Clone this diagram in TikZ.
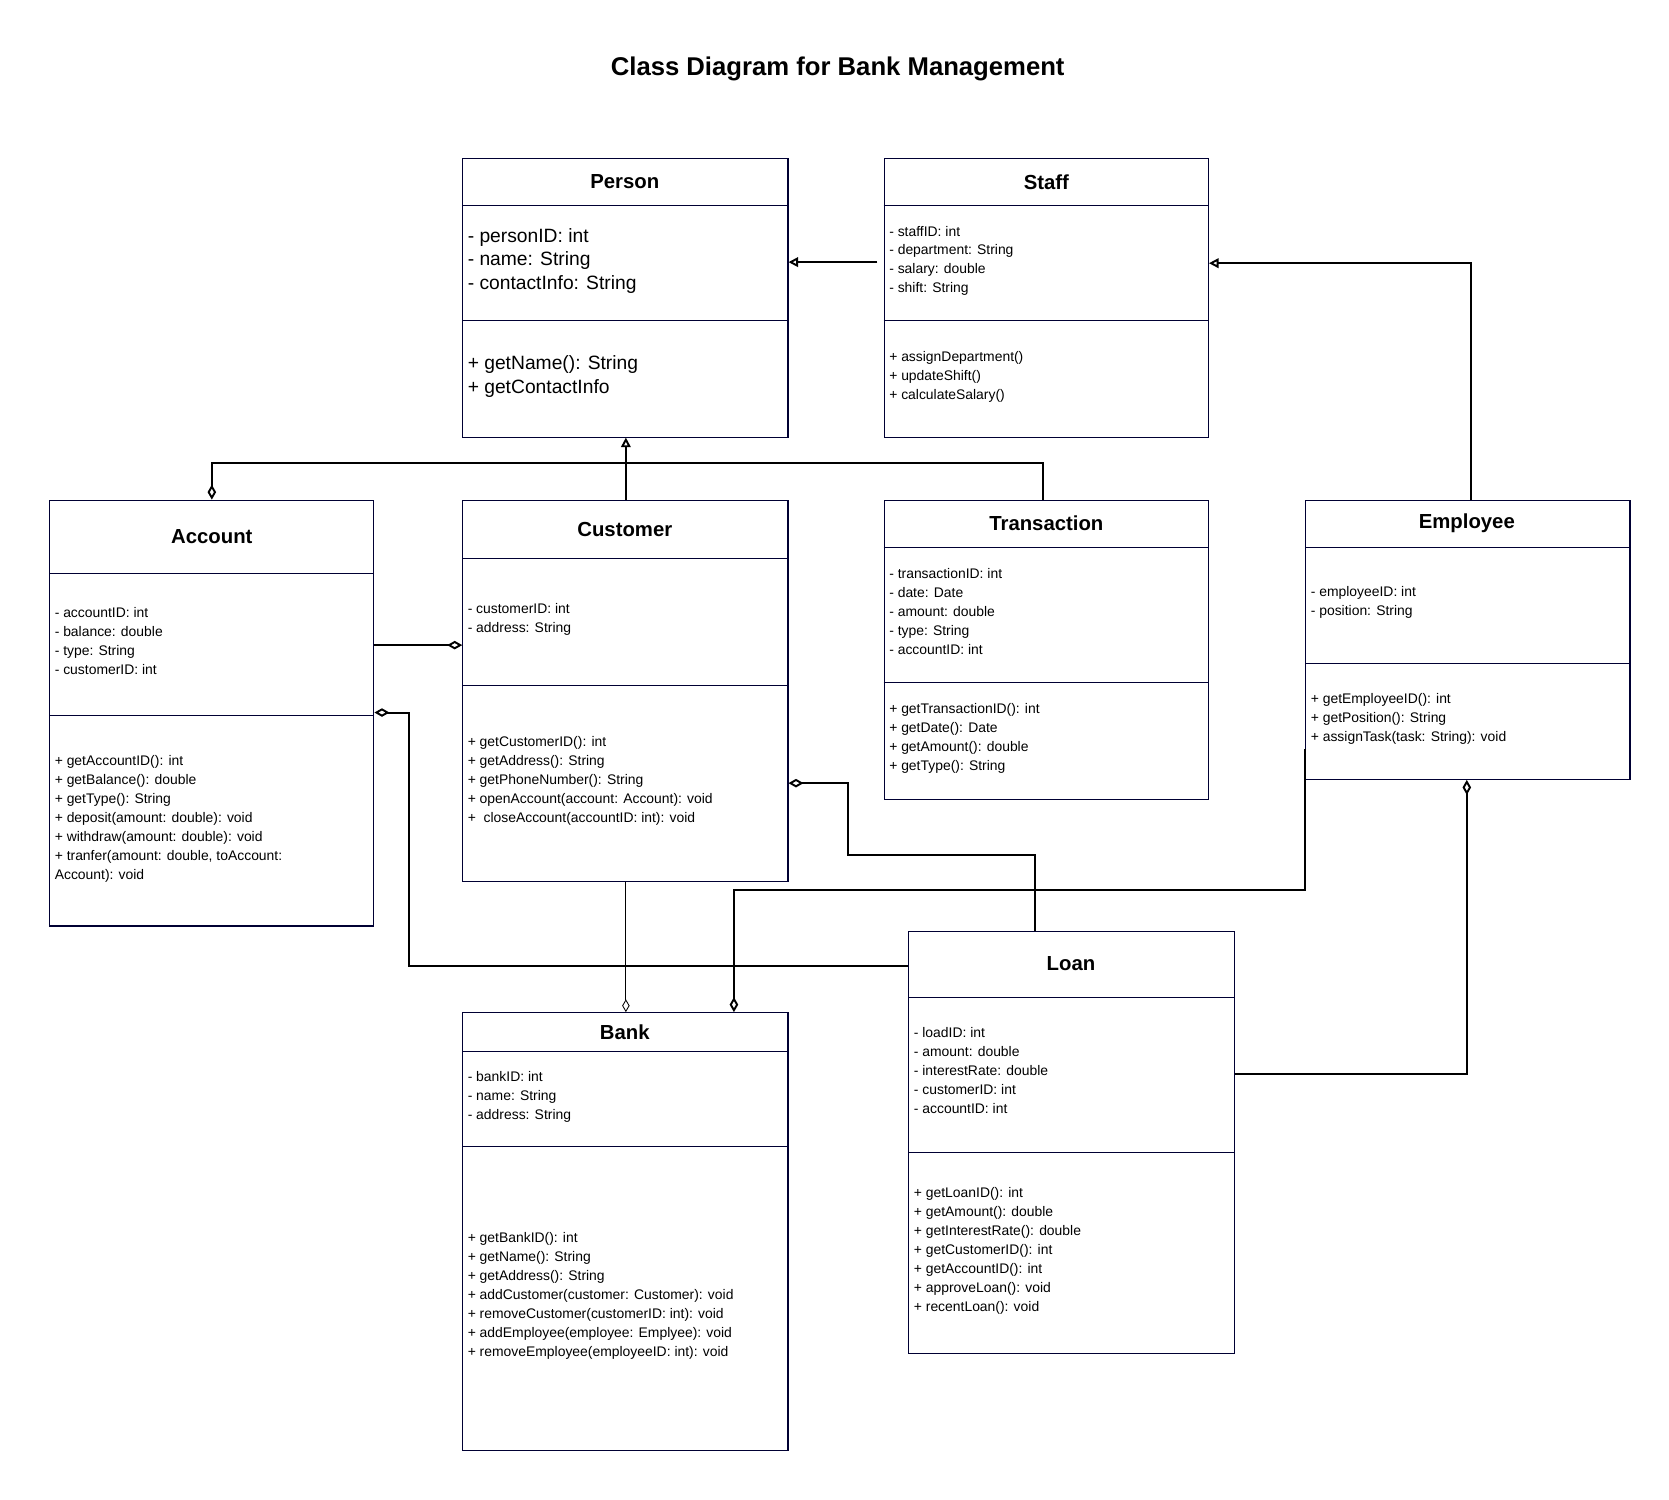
\documentclass[tikz,border=0pt]{standalone}
\usepackage{fontspec}
\setmainfont{Liberation Sans}
\usetikzlibrary{arrows.meta}
\tikzset{
    box/.style={draw=black!80!blue, line width=1pt, inner sep=0pt, anchor=north west}, % class frame
    title/.style={font=\fontsize{19}{22}\selectfont\bfseries},
    small/.style={anchor=north west, align=left, inner sep=0pt, font=\fontsize{13}{17.7}\selectfont},
    big/.style={anchor=north west, align=left, inner sep=0pt, font=\fontsize{18}{22.3}\selectfont},
    link/.style={line width=1.8pt},
    inh/.style={link, -{Triangle[open, length=9pt, width=9pt]}},
    agg/.style={link, -{Diamond[open, length=14pt, width=8pt]}}
}
\begin{document}
\begin{tikzpicture}[x=1pt, y=-1pt]
    \useasboundingbox (0,0) rectangle (1560,1402);
    \node[font=\fontsize{24}{28}\selectfont\bfseries] (head) at (783,64) {Class Diagram for Bank Management};

    % Person
    \node[box, minimum width=304, minimum height=260] (person) at (432,148) {};
    \draw[box] (432,192) -- (736,192) (432,300) -- (736,300);
    \node[title] (personT) at (584,170) {Person};
    \node[big] (personA) at (437,213) {- personID: int\\- name: String\\- contactInfo: String};
    \node[big] (personM) at (437,332) {+ getName(): String\\+ getContactInfo};

    % Staff
    \node[box, minimum width=303, minimum height=260] (staff) at (826,148) {};
    \draw[box] (826,192) -- (1129,192) (826,300) -- (1129,300);
    \node[title] (staffT) at (978,170) {Staff};
    \node[small] (staffA) at (831,211) {- staffID: int\\- department: String\\- salary: double\\- shift: String};
    \node[small] (staffM) at (831,328) {+ assignDepartment()\\+ updateShift()\\+ calculateSalary()};

    % Account
    \node[box, minimum width=303, minimum height=398] (account) at (46,467) {};
    \draw[box] (46,536) -- (349,536) (46,669) -- (349,669);
    \node[title] (accountT) at (198,502) {Account};
    \node[small] (accountA) at (51,568) {- accountID: int\\- balance: double\\- type: String\\- customerID: int};
    \node[small] (accountM) at (51,706) {+ getAccountID(): int\\+ getBalance(): double\\+ getType(): String\\+ deposit(amount: double): void\\+ withdraw(amount: double): void\\+ tranfer(amount: double, toAccount:\\Account): void};

    % Customer
    \node[box, minimum width=304, minimum height=356] (customer) at (432,467) {};
    \draw[box] (432,522) -- (736,522) (432,641) -- (736,641);
    \node[title] (customerT) at (584,495) {Customer};
    \node[small] (customerA) at (437,564) {- customerID: int\\- address: String};
    \node[small] (customerM) at (437,688) {+ getCustomerID(): int\\+ getAddress(): String\\+ getPhoneNumber(): String\\+ openAccount(account: Account): void\\+\ \ closeAccount(accountID: int): void};

    % Transaction
    \node[box, minimum width=303, minimum height=280] (transaction) at (826,467) {};
    \draw[box] (826,512) -- (1129,512) (826,638) -- (1129,638);
    \node[title] (transactionT) at (978,489) {Transaction};
    \node[small] (transactionA) at (831,531) {- transactionID: int\\- date: Date\\- amount: double\\- type: String\\- accountID: int};
    \node[small] (transactionM) at (831,657) {+ getTransactionID(): int\\+ getDate(): Date\\+ getAmount(): double\\+ getType(): String};

    % Employee
    \node[box, minimum width=303, minimum height=261] (employee) at (1220,467) {};
    \draw[box] (1220,512) -- (1523,512) (1220,620) -- (1523,620);
    \node[title] (employeeT) at (1371,489) {Employee};
    \node[small] (employeeA) at (1225,548) {- employeeID: int\\- position: String};
    \node[small] (employeeM) at (1225,648) {+ getEmployeeID(): int\\+ getPosition(): String\\+ assignTask(task: String): void};

    % Loan
    \node[box, minimum width=304, minimum height=395] (loan) at (849,870) {};
    \draw[box] (849,932) -- (1153,932) (849,1077) -- (1153,1077);
    \node[title] (loanT) at (1001,901) {Loan};
    \node[small] (loanA) at (854,960) {- loadID: int\\- amount: double\\- interestRate: double\\- customerID: int\\- accountID: int};
    \node[small] (loanM) at (854,1110) {+ getLoanID(): int\\+ getAmount(): double\\+ getInterestRate(): double\\+ getCustomerID(): int\\+ getAccountID(): int\\+ approveLoan(): void\\+ recentLoan(): void};

    % Bank
    \node[box, minimum width=304, minimum height=409] (bank) at (432,946) {};
    \draw[box] (432,983) -- (736,983) (432,1072) -- (736,1072);
    \node[title] (bankT) at (584,965) {Bank};
    \node[small] (bankA) at (437,1001) {- bankID: int\\- name: String\\- address: String};
    \node[small] (bankM) at (437,1152) {+ getBankID(): int\\+ getName(): String\\+ getAddress(): String\\+ addCustomer(customer: Customer): void\\+ removeCustomer(customerID: int): void\\+ addEmployee(employee: Emplyee): void\\+ removeEmployee(employeeID: int): void};

    % connectors
    \draw[inh] (820,245) -- (person.east |- 0,245);
    \draw[inh] (employee.north -| 1375,0) |- (staff.east |- 0,246);
    \draw[inh] (customer.north -| 585,0) -- (person.south -| 585,0);
    \draw[agg] (transaction.north -| 975,0) |- (585,433) -| (account.north);
    \draw[agg] (account.east |- 0,603) -- (customer.west |- 0,603);
    \draw[agg] (loan.west |- 0,903) -| (382,666) -- (account.east |- 0,666);
    \draw[agg] (loan.north -| 967,0) |- (793,799) |- (customer.east |- 0,732);
    \draw[line width=0.8pt, -{Diamond[open, length=12pt, width=7pt]}] (customer.south -| 585,0) -- (bank.north -| 585,0);
    \draw[agg] (employee.west |- 0,700) |- (686,832) -- (bank.north -| 686,0);
    \draw[agg] (loan.east |- 0,1004) -| (employee.south -| 1371,0);
\end{tikzpicture}
\end{document}
